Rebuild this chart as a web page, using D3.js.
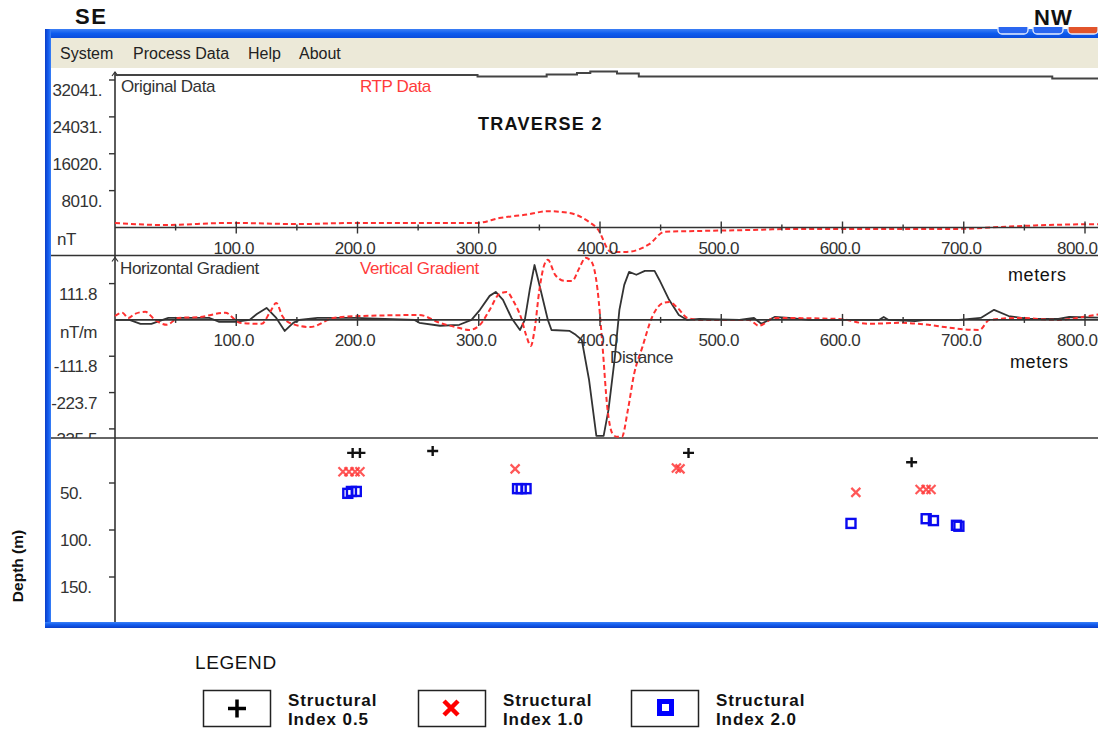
<!DOCTYPE html>
<html>
<head>
<meta charset="utf-8">
<script src="https://cdn.jsdelivr.net/npm/d3@7"></script>
<style>
  html, body { margin: 0; padding: 0; background: #fff; }
  svg { display: block; }
  .app { font-family: "Liberation Sans", Arial, sans-serif; font-size: 17px; letter-spacing: -0.4px; fill: #333; }
  .menu { font-family: "Liberation Sans", Arial, sans-serif; font-size: 16px; fill: #222; }
  .note { font-family: "Liberation Sans", Arial, sans-serif; fill: #111; }
</style>
</head>
<body>
<svg id="chart" width="1098" height="734"></svg>
<script>
// ---- Traverse 2 profile data -------------------------------------------

// Total magnetic field (nT), stepped readings along the line (m)
const originalDist = [0, 299, 356, 381, 392, 414, 432, 773, 830];
const originalNT   = [33120, 32800, 33230, 33560, 33880, 33450, 32800, 32370, 32370];

// Reduced-to-pole field (nT)
const rtpDist = [0, 40, 95, 152, 198, 299, 317, 342, 356, 375, 391, 398, 409, 422, 441, 453, 482, 523, 564, 647, 696, 729, 770, 820];
const rtpNT   = [1000, 550, 1000, 750, 1000, 1000, 2050, 2900, 3550, 3150, 1200, -300, -5300, -5300, -3550, -950, -750, -550, -300, -300, -300, 100, 550, 750];

// Horizontal gradient (nT/m)
const hgDist = [0, 12, 21, 30, 44, 78, 86, 99, 111, 117, 125, 133, 140, 147, 152, 167, 198, 247, 251, 268, 284, 294,
                301, 309, 314, 320, 327, 334, 338, 342, 346, 350, 357, 360, 375, 380, 385, 391, 397, 403, 407, 412,
                416, 420, 424, 430, 437, 445, 449, 457, 465, 472, 482, 515, 527, 533, 544, 556, 572, 630, 634, 638,
                660, 668, 696, 714, 725, 737, 754, 778, 787, 820];
const hgVal  = [0, 0, -12, -12, 6, 6, -6, -6, 0, 18, 37, 6, -34, -9, 0, 6, 6, 0, -9, -18, -15, 0,
                31, 74, 86, 62, 6, -31, 0, 92, 169, 108, 0, -31, -34, -46, -62, -185, -357, -357, -277, -123,
                31, 108, 148, 139, 151, 151, 123, 62, 15, 0, 3, 0, 6, -12, 9, 6, 0, 0, 9, 0,
                -4, 0, 0, 6, 31, 12, 3, 3, 9, 6];

// Vertical gradient (nT/m)
const vgDist = [0, 6, 11, 16, 25, 33, 43, 52, 70, 91, 103, 121, 128, 133, 138, 146, 161, 180, 202, 251, 268, 284, 292,
                301, 309, 317, 323, 329, 335, 339, 343, 346, 350, 354, 357, 363, 371, 377, 383, 388, 393, 398, 402,
                406, 410, 414, 418, 423, 428, 435, 443, 452, 457, 464, 472, 482, 523, 531, 544, 597, 622, 647, 671,
                684, 713, 721, 745, 778, 803, 820];
const vgVal  = [12, 22, 6, 18, 25, 0, -15, 6, 9, 22, -9, -12, 25, 52, 12, -12, -22, 6, 12, 15, -9, -25, -31,
                -15, 31, 80, 86, 55, 6, -46, -80, -31, 92, 169, 185, 139, 120, 120, 160, 191, 179, 92, -77,
                -268, -348, -360, -360, -277, -169, -83, 9, 52, 55, 37, 6, 0, 0, -18, 6, 3, -12, -9, -15,
                -22, -31, 0, 6, 0, 12, 22];

// Euler depth solutions: distance (m) and depth (m) per structural index
const si05Dist  = [196, 202, 262, 473, 657];
const si05Depth = [18, 18, 16, 18, 28];
const si10Dist  = [188, 193, 198, 202, 330, 463, 466, 611, 664, 669, 673];
const si10Depth = [38, 38, 38, 38, 35, 34, 35, 60, 57, 57, 57];
const si20Dist  = [192, 195, 199, 332, 335, 339, 607, 669, 675, 694, 696];
const si20Depth = [61, 59, 59, 56, 56, 56, 93, 88, 90, 95, 96];

// Axis ticks and labels
const distTicks      = [100, 200, 300, 400, 500, 600, 700, 800];
const distMinorTicks = [50, 150, 250, 350, 450, 550, 650, 750];
const fieldTicks      = [8010, 16020, 24031, 32041];
const fieldTickLabels = ["8010.", "16020.", "24031.", "32041."];
const gradTicks       = [111.8, -111.8, -223.7, -335.5];
const gradTickLabels  = ["111.8", "-111.8", "-223.7", "-335.5"];
const depthTicks      = [50, 100, 150];
const depthTickLabels = ["50.", "100.", "150."];

const menuItems   = ["System", "Process Data", "Help", "About"];
const legendNames = ["Structural Index 0.5", "Structural Index 1.0", "Structural Index 2.0"];

// ---- Drawing ------------------------------------------------------------
const svg = d3.select("#chart");
const defs = svg.append("defs");
const rightEdge = 1097;

const x      = d3.scaleLinear().domain([0, 800]).range([115, 1085]);
const yField = d3.scaleLinear().domain([0, 32041]).range([227.5, 80]);
const yGrad  = d3.scaleLinear().domain([-335.5, 111.8]).range([428.9, 283.6]);
const yDepth = d3.scaleLinear().domain([0, 150]).range([436, 577]);

// window chrome gradients
const gBar = defs.append("linearGradient").attr("id", "bar").attr("x1", 0).attr("x2", 0).attr("y1", 0).attr("y2", 1);
gBar.append("stop").attr("offset", "0%").attr("stop-color", "#3c7ff5");
gBar.append("stop").attr("offset", "45%").attr("stop-color", "#0d5bee");
gBar.append("stop").attr("offset", "100%").attr("stop-color", "#0a48d6");
const gSide = defs.append("linearGradient").attr("id", "side").attr("x1", 0).attr("x2", 1).attr("y1", 0).attr("y2", 0);
gSide.append("stop").attr("offset", "0%").attr("stop-color", "#0a3dc8");
gSide.append("stop").attr("offset", "60%").attr("stop-color", "#155ff0");
gSide.append("stop").attr("offset", "100%").attr("stop-color", "#3a80f5");
const gBottom = defs.append("linearGradient").attr("id", "bottom").attr("x1", 0).attr("x2", 0).attr("y1", 0).attr("y2", 1);
gBottom.append("stop").attr("offset", "0%").attr("stop-color", "#3a80f5");
gBottom.append("stop").attr("offset", "40%").attr("stop-color", "#155ff0");
gBottom.append("stop").attr("offset", "100%").attr("stop-color", "#0a3dc8");

defs.append("clipPath").attr("id", "clipButtons").append("rect").attr("x", 0).attr("y", 27).attr("width", 1098).attr("height", 20);
defs.append("clipPath").attr("id", "clipTop").append("rect").attr("x", 51).attr("y", 68).attr("width", 1047).attr("height", 187);
defs.append("clipPath").attr("id", "clipMid").append("rect").attr("x", 51).attr("y", 256).attr("width", 1047).attr("height", 182);
defs.append("clipPath").attr("id", "clipBot").append("rect").attr("x", 51).attr("y", 439).attr("width", 1047).attr("height", 183);

// direction labels
svg.append("text").attr("x", 75).attr("y", 24).attr("font-family", "Liberation Sans, Arial, sans-serif")
  .attr("font-size", 22).attr("font-weight", "bold").attr("letter-spacing", 1.5).attr("fill", "#111").text("SE");
svg.append("text").attr("x", 1034).attr("y", 25).attr("font-family", "Liberation Sans, Arial, sans-serif")
  .attr("font-size", 22).attr("font-weight", "bold").attr("letter-spacing", 1).attr("fill", "#111").text("NW");

// window frame
svg.append("rect").attr("x", 45).attr("y", 29).attr("width", 1060).attr("height", 10).attr("fill", "url(#bar)");
const btns = svg.append("g").attr("clip-path", "url(#clipButtons)");
[[998, "#2a66f0"], [1033, "#2a66f0"], [1068, "#e2542b"]].forEach(([bx, col]) => {
  btns.append("rect").attr("x", bx).attr("y", 16).attr("width", 30).attr("height", 18).attr("rx", 4)
    .attr("fill", col).attr("stroke", "#e6eeff").attr("stroke-width", 1.3);
});
svg.append("rect").attr("x", 51).attr("y", 38).attr("width", 1047).attr("height", 30).attr("fill", "#ece9d8");
svg.append("rect").attr("x", 51).attr("y", 68).attr("width", 1047).attr("height", 554).attr("fill", "#fff");
svg.append("rect").attr("x", 45).attr("y", 29).attr("width", 6).attr("height", 599).attr("fill", "url(#side)");
svg.append("rect").attr("x", 45).attr("y", 622).attr("width", 1060).attr("height", 6).attr("fill", "url(#bottom)");

// menu bar
const menuX = [60, 133, 248, 299];
svg.append("g").selectAll("text").data(menuItems).join("text")
  .attr("class", "menu").attr("x", (d, i) => menuX[i]).attr("y", 59).text(d => d);

// panel separators and the shared vertical axis
svg.append("g").attr("stroke", "#333").attr("stroke-width", 1.6)
  .selectAll("line").data([255.5, 438]).join("line")
  .attr("x1", 51).attr("x2", 1098).attr("y1", d => d).attr("y2", d => d);
svg.append("line").attr("x1", 115).attr("x2", 115).attr("y1", 72).attr("y2", 622)
  .attr("stroke", "#333").attr("stroke-width", 1.6);
svg.append("g").attr("fill", "none").attr("stroke", "#333").attr("stroke-width", 1.2)
  .selectAll("path").data([72, 257.5]).join("path")
  .attr("d", d => `M112,${d + 4}L115,${d}L118,${d + 4}`);

// distance axis on a baseline: ticks up and down, labels beneath
function distanceAxis(y0, clipId) {
  const g = svg.append("g").attr("clip-path", `url(#${clipId})`);
  g.append("line").attr("x1", 115).attr("x2", 1098).attr("y1", y0).attr("y2", y0)
    .attr("stroke", "#333").attr("stroke-width", 1.6);
  g.selectAll("line.major").data(distTicks).join("line").attr("class", "major")
    .attr("x1", d => x(d)).attr("x2", d => x(d)).attr("y1", y0 - 6).attr("y2", y0 + 6)
    .attr("stroke", "#333").attr("stroke-width", 1.4);
  g.selectAll("line.minor").data(distMinorTicks).join("line").attr("class", "minor")
    .attr("x1", d => x(d)).attr("x2", d => x(d)).attr("y1", y0 - 3).attr("y2", y0 + 3)
    .attr("stroke", "#333").attr("stroke-width", 1.4);
  const ax = d3.axisBottom(x).tickValues(distTicks).tickSize(0).tickPadding(0).tickFormat(d3.format(".1f"));
  const axg = svg.append("g").attr("transform", `translate(0,${y0 + 26})`).call(ax);
  axg.select(".domain").remove();
  axg.attr("font-family", null).attr("font-size", null);
  axg.selectAll("text").attr("class", "app").attr("dy", null).attr("fill", null).attr("x", -3)
    .each(function (d) {
      // keep the last label inside the window edge
      const half = this.getComputedTextLength() / 2;
      if (x(d) - 3 + half > rightEdge) d3.select(this).attr("x", rightEdge - x(d) - half);
    });
  return g;
}

// left value ticks
function valueTicks(scale, ticks, labels, anchor, lx, clipId) {
  const g = svg.append("g").attr("clip-path", `url(#${clipId})`);
  g.selectAll("line").data(ticks).join("line")
    .attr("x1", 109).attr("x2", 115).attr("y1", d => scale(d)).attr("y2", d => scale(d))
    .attr("stroke", "#333").attr("stroke-width", 1.4);
  g.selectAll("text").data(ticks).join("text").attr("class", "app")
    .attr("x", lx).attr("y", d => scale(d) + 16).attr("text-anchor", anchor)
    .text((d, i) => labels[i]);
  return g;
}

// ---- Panel 1: original and RTP data ----
const fieldPanel = svg.append("g").attr("clip-path", "url(#clipTop)");
distanceAxis(yField(0), "clipTop");
valueTicks(yField, fieldTicks, fieldTickLabels, "end", 102, "clipTop");
svg.append("text").attr("class", "app").attr("x", 57).attr("y", yField(0) + 17).text("nT");

fieldPanel.append("path").datum(d3.zip(originalDist, originalNT))
  .attr("d", d3.line().x(d => x(d[0])).y(d => yField(d[1])).curve(d3.curveStepAfter))
  .attr("fill", "none").attr("stroke", "#444").attr("stroke-width", 2);
fieldPanel.append("path").datum(d3.zip(rtpDist, rtpNT))
  .attr("d", d3.line().x(d => x(d[0])).y(d => yField(d[1])).curve(d3.curveMonotoneX))
  .attr("fill", "none").attr("stroke", "#ff3030").attr("stroke-width", 2).attr("stroke-dasharray", "5 3");

svg.append("text").attr("class", "app").attr("x", 121).attr("y", 92).text("Original Data");
svg.append("text").attr("class", "app").attr("x", 360).attr("y", 92).style("fill", "#ff3b3b").text("RTP Data");
svg.append("text").attr("class", "note").attr("x", 478).attr("y", 130).attr("font-size", 18)
  .attr("font-weight", "bold").attr("letter-spacing", 1.3).text("TRAVERSE 2");

// ---- Panel 2: horizontal and vertical gradients ----
const gradPanel = svg.append("g").attr("clip-path", "url(#clipMid)");
distanceAxis(yGrad(0), "clipMid");
valueTicks(yGrad, gradTicks, gradTickLabels, "end", 97, "clipMid");
svg.append("text").attr("class", "app").attr("x", 97).attr("y", yGrad(0) + 18).attr("text-anchor", "end").text("nT/m");

gradPanel.append("path").datum(d3.zip(hgDist, hgVal))
  .attr("d", d3.line().x(d => x(d[0])).y(d => yGrad(d[1])))
  .attr("fill", "none").attr("stroke", "#333").attr("stroke-width", 1.8).attr("stroke-linejoin", "round");
gradPanel.append("path").datum(d3.zip(vgDist, vgVal))
  .attr("d", d3.line().x(d => x(d[0])).y(d => yGrad(d[1])).curve(d3.curveMonotoneX))
  .attr("fill", "none").attr("stroke", "#ff3030").attr("stroke-width", 2).attr("stroke-dasharray", "5 3");

svg.append("text").attr("class", "app").attr("x", 120).attr("y", 274).text("Horizontal Gradient");
svg.append("text").attr("class", "app").attr("x", 360).attr("y", 274).style("fill", "#ff3b3b").text("Vertical Gradient");
svg.append("text").attr("class", "app").attr("x", 610).attr("y", 363).text("Distance");
svg.append("text").attr("class", "note").attr("x", 1008).attr("y", 281).attr("font-size", 18)
  .attr("letter-spacing", 0.6).text("meters");
svg.append("text").attr("class", "note").attr("x", 1010).attr("y", 368).attr("font-size", 18)
  .attr("letter-spacing", 0.6).text("meters");

// ---- Panel 3: Euler depth solutions ----
const depthPanel = svg.append("g").attr("clip-path", "url(#clipBot)");
valueTicks(yDepth, depthTicks, depthTickLabels, "start", 60, "clipBot");
svg.append("text").attr("class", "note").attr("transform", "translate(23,566) rotate(-90)")
  .attr("text-anchor", "middle").attr("font-size", 15.5).attr("font-weight", "bold").text("Depth (m)");

const plusPath = "M-5.5,0H5.5M0,-5V5";
const crossPath = "M-4.5,-4.5L4.5,4.5M-4.5,4.5L4.5,-4.5";

depthPanel.append("g").selectAll("path").data(d3.zip(si05Dist, si05Depth)).join("path")
  .attr("transform", d => `translate(${x(d[0])},${yDepth(d[1])})`)
  .attr("d", plusPath).attr("stroke", "#111").attr("stroke-width", 2.4);
depthPanel.append("g").selectAll("path").data(d3.zip(si10Dist, si10Depth)).join("path")
  .attr("transform", d => `translate(${x(d[0])},${yDepth(d[1])})`)
  .attr("d", crossPath).attr("stroke", "#ff3a3a").attr("stroke-opacity", 0.85).attr("stroke-width", 2.2);
depthPanel.append("g").selectAll("rect").data(d3.zip(si20Dist, si20Depth)).join("rect")
  .attr("x", d => x(d[0]) - 4.5).attr("y", d => yDepth(d[1]) - 4.5).attr("width", 9).attr("height", 9)
  .attr("fill", "none").attr("stroke", "#0a0af0").attr("stroke-width", 2.4);

// ---- Legend ----
svg.append("text").attr("class", "note").attr("x", 195).attr("y", 669).attr("font-size", 19)
  .attr("letter-spacing", 0.6).text("LEGEND");
const boxX = [203, 418, 631];
const leg = svg.append("g").selectAll("g").data(legendNames).join("g")
  .attr("transform", (d, i) => `translate(${boxX[i]},690)`);
leg.append("rect").attr("x", 0.5).attr("y", 0.5).attr("width", 67).attr("height", 36)
  .attr("fill", "#fff").attr("stroke", "#222").attr("stroke-width", 1.5);
leg.filter((d, i) => i === 0).append("path").attr("d", "M25,18.5H43M34,9.5V27.5")
  .attr("stroke", "#000").attr("stroke-width", 3.5);
leg.filter((d, i) => i === 1).append("path").attr("d", "M26,11L40,25M26,25L40,11")
  .attr("stroke", "#ff0000").attr("stroke-width", 4.5);
leg.filter((d, i) => i === 2).append("rect").attr("x", 28.5).attr("y", 11.5).attr("width", 12).attr("height", 12)
  .attr("fill", "#fff").attr("stroke", "#0000ff").attr("stroke-width", 5);
// two-line series names beside each box
leg.append("text").attr("class", "note").attr("x", 85).attr("y", 16).attr("font-size", 17)
  .attr("font-weight", "bold").attr("letter-spacing", 0.9).attr("fill", "#222")
  .text(d => d.split(" ")[0]);
leg.append("text").attr("class", "note").attr("x", 85).attr("y", 35).attr("font-size", 17)
  .attr("font-weight", "bold").attr("letter-spacing", 0.9).attr("fill", "#222")
  .text(d => d.split(" ").slice(1).join(" "));
</script>
</body>
</html>
